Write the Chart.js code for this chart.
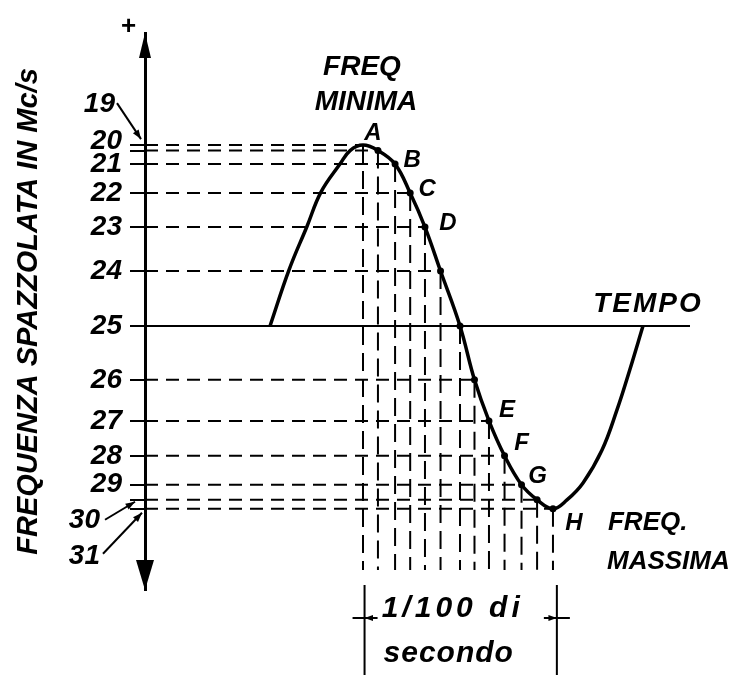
<!DOCTYPE html>
<html lang="it">
<head>
<meta charset="UTF-8" />
<title>Frequenza spazzolata</title>
<script src="https://cdn.jsdelivr.net/npm/chart.js"></script>
<style>
  html, body { margin: 0; padding: 0; background: #fff; }
  #wrap { width: 730px; height: 675px; }
</style>
</head>
<body>
<div id="wrap"><canvas id="chart" width="730" height="675"></canvas></div>
<script>
// sampling instants (time units) and levels
const sampleTime = [0, 0.96, 2.06, 3.03, 3.98, 4.98, 6.23, 7.16, 8.09, 9.09, 10.18, 11.18, 12.2];
const sampleLevel = [100, 97, 89.5, 73.5, 54.7, 30.4, 0, -29.8, -52.5, -71.8, -87.8, -96.1, -101.1];
const freqLabels = ["19", "20", "21", "22", "23", "24", "25", "26", "27", "28", "29", "30", "31"];
const pointLetters = ["A", "", "B", "C", "D", "", "", "", "E", "F", "G", "", "H"];

// the sweep curve itself
const curveTime = [-5.97, -4.75, -3.6, -2.7, -1.48, -0.83, 0, 0.96, 2.06, 3.03, 3.98, 4.98, 6.23, 7.16, 8.09, 9.09, 10.18, 11.18, 12.2, 13.1, 14.13, 15.35, 16.31, 17.13, 17.98];
const curveLevel = [0, 31, 55, 74, 89.5, 97, 100, 97, 89.5, 73.5, 54.7, 30.4, 0, -29.8, -52.5, -71.8, -87.8, -96.1, -101.1, -96.2, -86.8, -68.6, -46.4, -24.3, 0];

const timeRange = [-14, 21];
const levelRange = [-146, 162];
const dashBottom = -135;
const spanTimes = [0.1, 12.45]; // 1/100 di secondo

const FONT = '"Liberation Sans", Arial, sans-serif';
const sideLabels = [0, 1, 11, 12];

const datasets = [];

datasets.push({
  data: curveTime.map((t, i) => ({ x: t, y: curveLevel[i] })),
  showLine: true,
  borderColor: "#000",
  borderWidth: 3.5,
  pointRadius: 0,
  tension: 0.4,
  order: 1,
});

datasets.push({
  data: [{ x: timeRange[0], y: 0 }, { x: timeRange[1], y: 0 }],
  showLine: true,
  borderColor: "#000",
  borderWidth: 2,
  pointRadius: 0,
  order: 2,
});

sampleTime.forEach((t, i) => {
  datasets.push({
    data: [{ x: timeRange[0], y: sampleLevel[i] }, { x: t, y: sampleLevel[i] }],
    showLine: true,
    borderColor: "#000",
    borderWidth: 2,
    borderDash: [13, 8],
    pointRadius: 0,
    order: 3,
  });
  datasets.push({
    data: [{ x: t, y: sampleLevel[i] }, { x: t, y: dashBottom }],
    showLine: true,
    borderColor: "#000",
    borderWidth: 2,
    borderDash: [18, 8],
    pointRadius: 0,
    order: 3,
  });
});

datasets.push({
  data: sampleTime.slice(1).map((t, i) => ({ x: t, y: sampleLevel[i + 1] })),
  showLine: false,
  pointRadius: 3.5,
  pointBackgroundColor: "#000",
  pointBorderWidth: 0,
  order: 0,
});

const arrow = (ctx, x1, y1, x2, y2, size) => {
  ctx.beginPath();
  ctx.moveTo(x1, y1);
  ctx.lineTo(x2, y2);
  ctx.stroke();
  const a = Math.atan2(y2 - y1, x2 - x1);
  ctx.beginPath();
  ctx.moveTo(x2, y2);
  ctx.lineTo(x2 - size * Math.cos(a - 0.35), y2 - size * Math.sin(a - 0.35));
  ctx.lineTo(x2 - size * Math.cos(a + 0.35), y2 - size * Math.sin(a + 0.35));
  ctx.closePath();
  ctx.fill();
};

const sketchPlugin = {
  id: "sketch",
  afterDraw(chart) {
    const { ctx, chartArea } = chart;
    const xs = chart.scales.x;
    const ys = chart.scales.y;
    const px = (t) => xs.getPixelForValue(t);
    const py = (v) => ys.getPixelForValue(v);
    const ax = chartArea.left;
    const top = chartArea.top;
    const bottom = chartArea.bottom;

    const text = (s, x, y, size, align = "center", spacing = 0) => {
      ctx.font = `italic bold ${size}px ${FONT}`;
      ctx.letterSpacing = spacing + "px";
      ctx.textAlign = align;
      ctx.textBaseline = "middle";
      ctx.fillText(s, x, y);
    };

    ctx.save();
    ctx.fillStyle = "#000";
    ctx.strokeStyle = "#000";
    ctx.lineWidth = 2;

    // arrowheads on the frequency axis
    ctx.beginPath();
    ctx.moveTo(ax, top);
    ctx.lineTo(ax - 6, top + 25);
    ctx.lineTo(ax + 6, top + 25);
    ctx.closePath();
    ctx.fill();
    ctx.beginPath();
    ctx.moveTo(ax, bottom);
    ctx.lineTo(ax - 9, bottom - 30);
    ctx.lineTo(ax + 9, bottom - 30);
    ctx.closePath();
    ctx.fill();
    text("+", ax - 17, top - 6, 26);

    // labels that sit away from their level
    const y19 = py(sampleLevel[0]);
    text(freqLabels[0], ax - 30, y19 - 41, 28, "right");
    arrow(ctx, ax - 28, y19 - 42, ax - 4, y19 - 6, 10);
    const y20 = py(sampleLevel[1]);
    text(freqLabels[1], ax - 23, y20 - 9, 28, "right");
    const y30 = py(sampleLevel[11]);
    text(freqLabels[11], ax - 45, y30 + 21, 28, "right");
    arrow(ctx, ax - 40, y30 + 20, ax - 10, y30 + 2, 10);
    const y31 = py(sampleLevel[12]);
    text(freqLabels[12], ax - 45, y31 + 47, 28, "right");
    arrow(ctx, ax - 42, y31 + 45, ax - 3, y31 + 4, 10);

    // letters on the curve
    const offs = { A: [10, -12], B: [17, -4], C: [17, -4], D: [23, -4], E: [18, -11], F: [17, -12], G: [16, -8], H: [21, 15] };
    pointLetters.forEach((l, i) => {
      if (!l) return;
      const o = offs[l];
      text(l, px(sampleTime[i]) + o[0], py(sampleLevel[i]) + o[1], 24);
    });

    // notes
    const x0 = px(sampleTime[0]);
    text("FREQ", x0 - 1, top + 34, 28);
    text("MINIMA", x0 + 3, top + 69, 28);
    text("TEMPO", chartArea.right - 42, py(0) - 22, 28, "center", 2);
    const xH = px(sampleTime[12]);
    const yH = py(sampleLevel[12]);
    text("FREQ.", xH + 55, yH + 14, 26, "left");
    text("MASSIMA", xH + 54, yH + 53, 26, "left");

    // span of 1/100 s
    const s0 = px(spanTimes[0]);
    const s1 = px(spanTimes[1]);
    const mid = (s0 + s1) / 2;
    ctx.lineWidth = 2;
    ctx.beginPath();
    ctx.moveTo(s0, bottom - 5);
    ctx.lineTo(s0, chart.height);
    ctx.moveTo(s1, bottom - 5);
    ctx.lineTo(s1, chart.height);
    ctx.stroke();
    const yd = bottom + 28;
    arrow(ctx, s0 + 13, yd, s0, yd, 9);
    arrow(ctx, s1 - 13, yd, s1, yd, 9);
    ctx.beginPath();
    ctx.moveTo(s0 - 12, yd);
    ctx.lineTo(s0, yd);
    ctx.moveTo(s1, yd);
    ctx.lineTo(s1 + 13, yd);
    ctx.stroke();
    text("1/100 di", mid - 8, bottom + 19, 30, "center", 4);
    text("secondo", mid - 12, bottom + 64, 30, "center", 1);

    ctx.restore();
  },
};

new Chart(document.getElementById("chart"), {
  type: "scatter",
  data: { datasets: datasets },
  options: {
    responsive: false,
    animation: false,
    devicePixelRatio: 1,
    layout: { padding: { left: 0, right: 40, top: 33, bottom: 85 } },
    plugins: { legend: { display: false }, tooltip: { enabled: false } },
    scales: {
      x: { type: "linear", min: timeRange[0], max: timeRange[1], display: false },
      y: {
        type: "linear",
        min: levelRange[0],
        max: levelRange[1],
        afterFit: (scale) => { scale.width = 145; },
        afterBuildTicks: (scale) => {
          scale.ticks = sampleLevel.map((v) => ({ value: v }));
        },
        grid: { drawOnChartArea: false, drawTicks: true, tickLength: 15, color: "#000", lineWidth: 2 },
        border: { display: true, color: "#000", width: 3 },
        ticks: {
          autoSkip: false,
          padding: 8,
          color: "#000",
          font: { family: FONT, size: 28, style: "italic", weight: "bold" },
          callback: (value, index) => (sideLabels.includes(index) ? "" : freqLabels[index]),
        },
        title: {
          display: true,
          text: "FREQUENZA SPAZZOLATA IN Mc/s",
          color: "#000",
          padding: { top: 12, bottom: 0 },
          font: { family: FONT, size: 29, style: "italic", weight: "bold" },
        },
      },
    },
  },
  plugins: [sketchPlugin],
});
</script>
</body>
</html>
